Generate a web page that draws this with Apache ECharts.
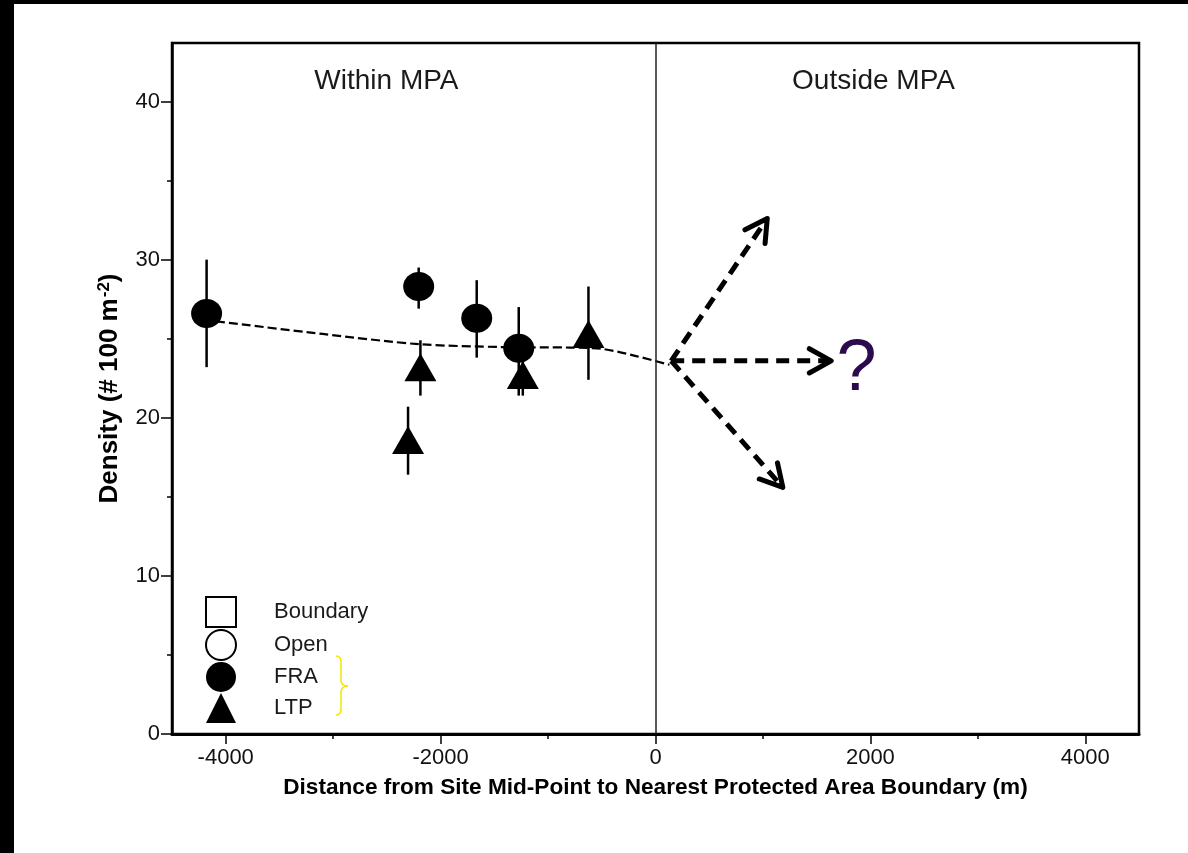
<!DOCTYPE html>
<html>
<head>
<meta charset="utf-8">
<script src="https://cdn.jsdelivr.net/npm/echarts@6/dist/echarts.min.js"></script>
<style>
html,body{margin:0;padding:0;background:#fff;}
#chart{width:1188px;height:853px;}
</style>
</head>
<body>
<div id="chart"></div>
<script>
// ---- data ----
const xTicks = [-4000, -2000, 0, 2000, 4000];
const xMinorTicks = [-3000, -1000, 1000, 3000];
const yTicks = [0, 10, 20, 30, 40];
const yMinorTicks = [5, 15, 25, 35];

const legendNames = ['Boundary', 'Open', 'FRA', 'LTP'];

const fraX = [-4178, -2204, -1664, -1273];
const fraY = [26.6, 28.3, 26.3, 24.4];
const fraLow = [23.2, 26.9, 23.8, 21.4];
const fraHigh = [30.0, 29.5, 28.7, 27.0];

const ltpX = [-2188, -2303, -1235, -624];
const ltpY = [23.2, 18.6, 22.7, 25.3];
const ltpLow = [21.4, 16.4, 21.4, 22.4];
const ltpHigh = [24.9, 20.7, 23.9, 28.3];

const trendX = [-4090, -3098, -2197, -1422, -801, -491, -180, 130];
const trendY = [26.1, 25.3, 24.65, 24.47, 24.44, 24.35, 23.9, 23.35];

const arrowX0 = [146, 146, 146];
const arrowY0 = [23.6, 23.6, 23.6];
const arrowX1 = [1040, 1635, 1185];
const arrowY1 = [32.6, 23.6, 15.6];

const regionLabels = ['Within MPA', 'Outside MPA'];
const regionLabelX = [-2504, 2029];
const regionLabelY = [41.25, 41.3];

const questionLabel = ['?'];
const questionX = [1871];
const questionY = [23.0];

const boundaryX = 0;

// ---- chart ----
const FONT = "'Liberation Sans', Arial, sans-serif";
const chart = echarts.init(document.getElementById('chart'), null, {renderer: 'canvas'});

const zip2 = (a, b) => a.map((v, i) => [v, b[i]]);
const errData = fraX.map((x, i) => [x, fraLow[i], fraHigh[i]])
  .concat(ltpX.map((x, i) => [x, ltpLow[i], ltpHigh[i]]));
const arrowData = arrowX0.map((x, i) => [x, arrowY0[i], arrowX1[i], arrowY1[i]]);
const plain = v => String(v);

const braceStyle = {fill: null, stroke: '#f3e600', lineWidth: 1.5};
const option = {
  backgroundColor: '#fff',
  animation: false,
  graphic: [
    {type: 'rect', x: 0, y: 0, shape: {width: 14, height: 853}, style: {fill: '#000'}, z: 100},
    {type: 'rect', x: 0, y: 0, shape: {width: 1188, height: 4}, style: {fill: '#000'}, z: 100},
    {type: 'group', x: 0, y: 0, z: 100, children: [
      {type: 'bezierCurve', shape: {x1: 336, y1: 656, cpx1: 341, cpy1: 656, x2: 341, y2: 662}, style: braceStyle},
      {type: 'line', shape: {x1: 341, y1: 662, x2: 341, y2: 680}, style: braceStyle},
      {type: 'bezierCurve', shape: {x1: 341, y1: 680, cpx1: 341, cpy1: 686, x2: 348, y2: 686}, style: braceStyle},
      {type: 'bezierCurve', shape: {x1: 348, y1: 686, cpx1: 341, cpy1: 686, x2: 341, y2: 692}, style: braceStyle},
      {type: 'line', shape: {x1: 341, y1: 692, x2: 341, y2: 709}, style: braceStyle},
      {type: 'bezierCurve', shape: {x1: 341, y1: 709, cpx1: 341, cpy1: 715, x2: 336, y2: 715}, style: braceStyle}
    ]}
  ],
  grid: {
    left: 172, top: 43, right: 49, bottom: 119,
    show: true, borderColor: '#000', borderWidth: 2.5, backgroundColor: '#fff',
    containLabel: false, outerBoundsMode: 'none'
  },
  legend: {
    data: legendNames,
    orient: 'vertical',
    left: 205, top: 596,
    padding: 0,
    itemWidth: 30, itemHeight: 30, itemGap: 1,
    selectedMode: false,
    textStyle: {fontSize: 22, color: '#1a1a1a', fontFamily: FONT, padding: [0, 0, 0, 33]}
  },
  xAxis: [{
    type: 'value', min: -4500, max: 4500, position: 'bottom',
    axisLine: {show: true, onZero: false, lineStyle: {color: '#000', width: 3}},
    axisTick: {show: true, customValues: xTicks, length: 10, lineStyle: {color: '#000', width: 1.5}},
    axisLabel: {show: true, customValues: xTicks, formatter: plain, fontSize: 22, color: '#111', fontFamily: FONT, margin: 13},
    splitLine: {show: false},
    name: 'Distance from Site Mid-Point to Nearest Protected Area Boundary (m)',
    nameLocation: 'middle', nameGap: 42,
    nameTextStyle: {fontSize: 22.6, fontWeight: 'bold', color: '#000', fontFamily: FONT}
  }, {
    type: 'value', min: -4500, max: 4500, position: 'bottom',
    axisLine: {show: false, onZero: false},
    axisTick: {show: true, customValues: xMinorTicks, length: 5, lineStyle: {color: '#000', width: 1.5}},
    axisLabel: {show: false},
    splitLine: {show: false}
  }],
  yAxis: [{
    type: 'value', min: 0, max: 43.7, position: 'left',
    axisLine: {show: true, onZero: false, lineStyle: {color: '#000', width: 2.5}},
    axisTick: {show: true, customValues: yTicks, length: 11, lineStyle: {color: '#000', width: 1.5}},
    axisLabel: {show: true, customValues: yTicks, formatter: plain, fontSize: 22, color: '#111', fontFamily: FONT, margin: 12},
    splitLine: {show: false},
    name: 'Density (# 100 m{sup|-2})',
    nameLocation: 'middle', nameGap: 49, nameRotate: 90,
    nameTextStyle: {
      fontSize: 26, fontWeight: 'bold', color: '#000', fontFamily: FONT,
      rich: {sup: {fontSize: 17, fontWeight: 'bold', color: '#000', fontFamily: FONT, verticalAlign: 'top', padding: [0, 0, 10, 1]}}
    }
  }, {
    type: 'value', min: 0, max: 43.7, position: 'left',
    axisLine: {show: false, onZero: false},
    axisTick: {show: true, customValues: yMinorTicks, length: 5, lineStyle: {color: '#000', width: 1.5}},
    axisLabel: {show: false},
    splitLine: {show: false}
  }],
  series: [
    {
      name: 'Boundary', type: 'scatter', data: [],
      symbol: 'rect', symbolSize: 30,
      itemStyle: {color: '#fff', borderColor: '#000', borderWidth: 1.5, opacity: 1}
    },
    {
      name: 'Open', type: 'scatter', data: [],
      symbol: 'circle', symbolSize: 30,
      itemStyle: {color: '#fff', borderColor: '#000', borderWidth: 1.5, opacity: 1}
    },
    {
      name: 'Trend', type: 'line', data: zip2(trendX, trendY),
      symbol: 'none', smooth: 0.3, silent: true, z: 2,
      lineStyle: {color: '#000', width: 2.2, type: [9, 4]},
      markLine: {
        silent: true, symbol: 'none', animation: false,
        label: {show: false},
        lineStyle: {color: '#222', width: 1.5, type: 'solid', opacity: 1},
        data: [{xAxis: boundaryX}]
      }
    },
    {
      name: 'ErrorBars', type: 'custom', silent: true, z: 3,
      data: errData,
      encode: {x: 0, y: [1, 2]},
      renderItem: function (params, api) {
        const x = api.value(0);
        const p1 = api.coord([x, api.value(1)]);
        const p2 = api.coord([x, api.value(2)]);
        return {type: 'line', shape: {x1: p1[0], y1: p1[1], x2: p2[0], y2: p2[1]},
                style: {stroke: '#000', lineWidth: 2.5, opacity: 1}};
      }
    },
    {
      name: 'FRA', type: 'scatter', data: zip2(fraX, fraY), z: 4,
      symbol: 'circle', symbolSize: [31, 29],
      itemStyle: {color: '#000', opacity: 1}
    },
    {
      name: 'LTP', type: 'scatter', data: zip2(ltpX, ltpY), z: 4,
      symbol: 'triangle', symbolSize: [32, 28],
      itemStyle: {color: '#000', opacity: 1}
    },
    {
      name: 'Arrows', type: 'custom', silent: true, z: 5,
      data: arrowData,
      encode: {x: [0, 2], y: [1, 3]},
      renderItem: function (params, api) {
        const a = api.coord([api.value(0), api.value(1)]);
        const b = api.coord([api.value(2), api.value(3)]);
        const ang = Math.atan2(b[1] - a[1], b[0] - a[0]);
        const L = 25, w = Math.PI / 6.2;
        const p1 = [b[0] - L * Math.cos(ang - w), b[1] - L * Math.sin(ang - w)];
        const p2 = [b[0] - L * Math.cos(ang + w), b[1] - L * Math.sin(ang + w)];
        const e = [b[0] - 3 * Math.cos(ang), b[1] - 3 * Math.sin(ang)];
        return {type: 'group', children: [
          {type: 'line', shape: {x1: a[0], y1: a[1], x2: e[0], y2: e[1]},
           style: {stroke: '#000', lineWidth: 5, lineDash: [13, 8]}},
          {type: 'polyline', shape: {points: [p1, b, p2]},
           style: {stroke: '#000', lineWidth: 5, fill: null, lineJoin: 'round', lineCap: 'round'}}
        ]};
      }
    },
    {
      name: 'Regions', type: 'scatter', silent: true, z: 6,
      symbol: 'circle', symbolSize: 0,
      itemStyle: {opacity: 1},
      data: regionLabels.map((n, i) => ({name: n, value: [regionLabelX[i], regionLabelY[i]]})),
      label: {show: true, position: 'inside', formatter: '{b}', fontSize: 28, color: '#1a1a1a', opacity: 1, fontFamily: FONT}
    },
    {
      name: 'Question', type: 'scatter', silent: true, z: 6,
      symbol: 'circle', symbolSize: 0,
      itemStyle: {opacity: 1},
      data: questionLabel.map((n, i) => ({name: n, value: [questionX[i], questionY[i]]})),
      label: {show: true, position: 'inside', formatter: '{b}', fontSize: 72, color: '#2b0a4d', opacity: 1, fontFamily: FONT}
    }
  ]
};
chart.setOption(option);
</script>
</body>
</html>
